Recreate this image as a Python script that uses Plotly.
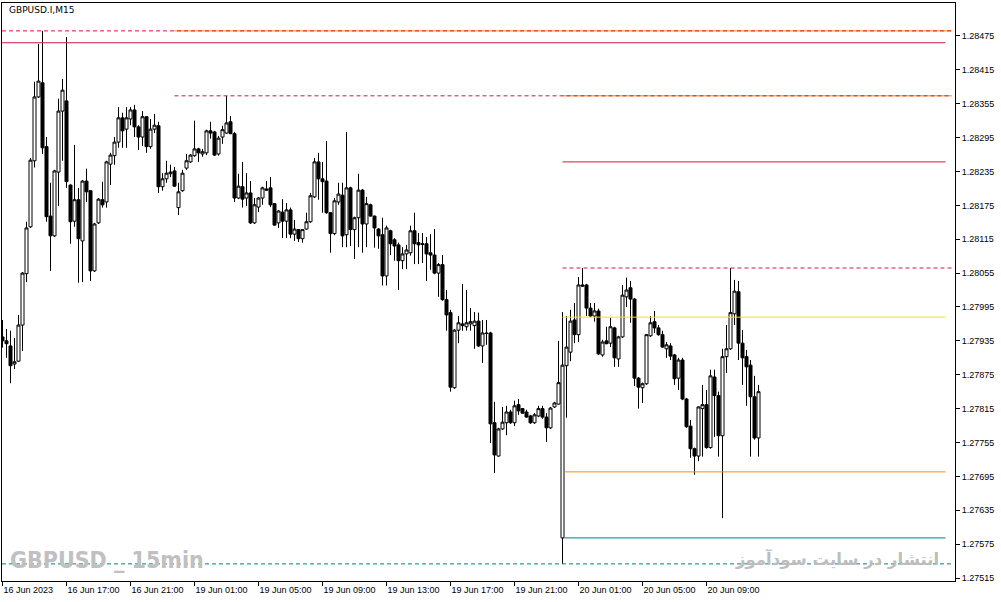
import plotly.graph_objects as go
import pandas as pd

chart_title = "GBPUSD.I,M15"
watermark_left = "GBPUSD _ 15min"
watermark_right = "انتشار در سایت سودآموز"
first_tick_label = "16 Jun 2023"

open_prices = [
    1.27942, 1.27935, 1.27926, 1.27894, 1.27899, 1.27963, 1.28054, 1.28137, 1.28254, 1.28367,
    1.28392, 1.28279, 1.28156, 1.28121, 1.28234, 1.28342, 1.28360, 1.28211, 1.28147, 1.28185,
    1.28112, 1.28218, 1.28201, 1.28059, 1.28144, 1.28185, 1.28181, 1.28248, 1.28263, 1.28287,
    1.28330, 1.28310, 1.28328, 1.28344, 1.28314, 1.28296, 1.28332, 1.28279, 1.28310, 1.28316,
    1.28208, 1.28222, 1.28231, 1.28236, 1.28171, 1.28201, 1.28241, 1.28252, 1.28263, 1.28275,
    1.28266, 1.28268, 1.28307, 1.28305, 1.28266, 1.28296, 1.28303, 1.28323, 1.28302, 1.28188,
    1.28208, 1.28188, 1.28197, 1.28144, 1.28172, 1.28188, 1.28204, 1.28206, 1.28178, 1.28144,
    1.28163, 1.28147, 1.28167, 1.28124, 1.28132, 1.28116, 1.28133, 1.28146, 1.28190, 1.28252,
    1.28222, 1.28218, 1.28162, 1.28125, 1.28181, 1.28193, 1.28123, 1.28206, 1.28132, 1.28153,
    1.28202, 1.28142, 1.28176, 1.28156, 1.28133, 1.28123, 1.28050, 1.28130, 1.28114, 1.28105,
    1.28077, 1.28089, 1.28091, 1.28130, 1.28109, 1.28107, 1.28107, 1.28091, 1.28087, 1.28055,
    1.28070, 1.28008, 1.27985, 1.27852, 1.27954, 1.27962, 1.27960, 1.27965, 1.27962, 1.27970,
    1.27926, 1.27949, 1.27949, 1.27790, 1.27731, 1.27779, 1.27790, 1.27809, 1.27790, 1.27822,
    1.27815, 1.27809, 1.27802, 1.27790, 1.27802, 1.27815, 1.27800, 1.27781, 1.27818, 1.27823,
    1.27586, 1.27891, 1.27915, 1.27972, 1.27946, 1.28034, 1.28034, 1.27993, 1.27979, 1.27988,
    1.27910, 1.27935, 1.27931, 1.27958, 1.27903, 1.27942, 1.28013, 1.28029, 1.28009, 1.27869,
    1.27852, 1.27859, 1.27944, 1.27969, 1.27958, 1.27946, 1.27921, 1.27926, 1.27910, 1.27869,
    1.27901, 1.27832, 1.27784, 1.27744, 1.27731, 1.27815, 1.27822, 1.27746, 1.27871, 1.27838,
    1.27767, 1.27907, 1.27921, 1.27983, 1.28022, 1.27931, 1.27907, 1.27892, 1.27836, 1.27763,
]
high_prices = [
    1.27972, 1.27956, 1.27953, 1.27940, 1.27981, 1.28057, 1.28146, 1.28259, 1.28394, 1.28461,
    1.28484, 1.28296, 1.28215, 1.28238, 1.28364, 1.28399, 1.28473, 1.28212, 1.28282, 1.28206,
    1.28220, 1.28240, 1.28202, 1.28144, 1.28188, 1.28217, 1.28254, 1.28268, 1.28296, 1.28349,
    1.28339, 1.28349, 1.28349, 1.28353, 1.28317, 1.28342, 1.28333, 1.28328, 1.28337, 1.28323,
    1.28232, 1.28254, 1.28247, 1.28243, 1.28215, 1.28238, 1.28266, 1.28266, 1.28325, 1.28277,
    1.28275, 1.28309, 1.28323, 1.28307, 1.28298, 1.28316, 1.28369, 1.28333, 1.28305, 1.28231,
    1.28252, 1.28232, 1.28218, 1.28188, 1.28190, 1.28208, 1.28218, 1.28225, 1.28179, 1.28167,
    1.28186, 1.28179, 1.28171, 1.28149, 1.28133, 1.28133, 1.28162, 1.28197, 1.28259, 1.28268,
    1.28252, 1.28289, 1.28163, 1.28188, 1.28215, 1.28215, 1.28305, 1.28208, 1.28155, 1.28231,
    1.28204, 1.28190, 1.28178, 1.28157, 1.28135, 1.28153, 1.28139, 1.28132, 1.28117, 1.28109,
    1.28101, 1.28105, 1.28139, 1.28162, 1.28126, 1.28126, 1.28119, 1.28124, 1.28133, 1.28073,
    1.28087, 1.28025, 1.27990, 1.27956, 1.27979, 1.28036, 1.28025, 1.27993, 1.27986, 1.27985,
    1.27972, 1.27972, 1.27951, 1.27827, 1.27781, 1.27818, 1.27820, 1.27813, 1.27829, 1.27832,
    1.27816, 1.27813, 1.27804, 1.27807, 1.27820, 1.27820, 1.27807, 1.27818, 1.27827, 1.27935,
    1.27986, 1.27979, 1.27990, 1.28002, 1.28048, 1.28064, 1.28036, 1.28002, 1.28002, 1.27992,
    1.27937, 1.27960, 1.27976, 1.27960, 1.27944, 1.28034, 1.28047, 1.28041, 1.28011, 1.27871,
    1.27861, 1.27947, 1.27979, 1.27988, 1.27963, 1.27953, 1.27933, 1.27931, 1.27912, 1.27905,
    1.27905, 1.27834, 1.27795, 1.27746, 1.27819, 1.27857, 1.27848, 1.27884, 1.27884, 1.27845,
    1.27921, 1.27963, 1.28064, 1.28043, 1.28041, 1.27954, 1.27919, 1.27901, 1.27873, 1.27857,
]
low_prices = [
    1.27923, 1.27905, 1.27860, 1.27885, 1.27898, 1.27917, 1.28039, 1.28135, 1.28242, 1.28365,
    1.28266, 1.28146, 1.28059, 1.28119, 1.28174, 1.28254, 1.28206, 1.28107, 1.28137, 1.28038,
    1.28039, 1.28181, 1.28041, 1.28057, 1.28142, 1.28171, 1.28171, 1.28211, 1.28247, 1.28277,
    1.28277, 1.28277, 1.28317, 1.28296, 1.28273, 1.28280, 1.28268, 1.28275, 1.28303, 1.28197,
    1.28201, 1.28215, 1.28225, 1.28208, 1.28158, 1.28199, 1.28238, 1.28250, 1.28261, 1.28252,
    1.28261, 1.28264, 1.28293, 1.28263, 1.28263, 1.28284, 1.28302, 1.28301, 1.28181, 1.28186,
    1.28171, 1.28174, 1.28142, 1.28142, 1.28163, 1.28176, 1.28201, 1.28172, 1.28139, 1.28135,
    1.28117, 1.28117, 1.28117, 1.28112, 1.28110, 1.28109, 1.28132, 1.28144, 1.28188, 1.28185,
    1.28162, 1.28160, 1.28091, 1.28122, 1.28176, 1.28101, 1.28101, 1.28103, 1.28080, 1.28101,
    1.28091, 1.28101, 1.28155, 1.28100, 1.28098, 1.28033, 1.28033, 1.28087, 1.28077, 1.28025,
    1.28062, 1.28062, 1.28086, 1.28071, 1.28071, 1.28073, 1.28041, 1.28061, 1.28053, 1.28013,
    1.28006, 1.27953, 1.27845, 1.27850, 1.27931, 1.27953, 1.27953, 1.27953, 1.27921, 1.27924,
    1.27896, 1.27928, 1.27754, 1.27701, 1.27730, 1.27777, 1.27768, 1.27788, 1.27784, 1.27804,
    1.27806, 1.27799, 1.27788, 1.27788, 1.27800, 1.27797, 1.27756, 1.27779, 1.27816, 1.27822,
    1.27540, 1.27799, 1.27899, 1.27931, 1.27933, 1.28031, 1.27979, 1.27977, 1.27969, 1.27910,
    1.27907, 1.27929, 1.27924, 1.27889, 1.27889, 1.27940, 1.27995, 1.27967, 1.27855, 1.27815,
    1.27825, 1.27857, 1.27942, 1.27949, 1.27944, 1.27923, 1.27905, 1.27901, 1.27857, 1.27848,
    1.27830, 1.27781, 1.27728, 1.27698, 1.27722, 1.27730, 1.27744, 1.27744, 1.27765, 1.27730,
    1.27621, 1.27878, 1.27919, 1.27963, 1.27901, 1.27857, 1.27820, 1.27730, 1.27760, 1.27730,
]
close_prices = [
    1.27935, 1.27930, 1.27891, 1.27898, 1.27963, 1.28055, 1.28135, 1.28255, 1.28367, 1.28395,
    1.28277, 1.28155, 1.28121, 1.28236, 1.28342, 1.28379, 1.28217, 1.28146, 1.28185, 1.28116,
    1.28218, 1.28199, 1.28059, 1.28142, 1.28186, 1.28176, 1.28252, 1.28264, 1.28287, 1.28330,
    1.28307, 1.28330, 1.28344, 1.28314, 1.28296, 1.28332, 1.28279, 1.28310, 1.28317, 1.28208,
    1.28222, 1.28232, 1.28234, 1.28209, 1.28199, 1.28232, 1.28254, 1.28264, 1.28275, 1.28268,
    1.28270, 1.28307, 1.28303, 1.28264, 1.28294, 1.28309, 1.28321, 1.28302, 1.28188, 1.28209,
    1.28186, 1.28197, 1.28144, 1.28176, 1.28188, 1.28206, 1.28202, 1.28176, 1.28140, 1.28165,
    1.28147, 1.28167, 1.28124, 1.28133, 1.28116, 1.28132, 1.28146, 1.28192, 1.28252, 1.28222,
    1.28217, 1.28162, 1.28125, 1.28183, 1.28195, 1.28121, 1.28206, 1.28132, 1.28153, 1.28202,
    1.28142, 1.28178, 1.28156, 1.28135, 1.28121, 1.28050, 1.28135, 1.28107, 1.28103, 1.28077,
    1.28089, 1.28096, 1.28130, 1.28107, 1.28105, 1.28106, 1.28089, 1.28087, 1.28055, 1.28070,
    1.28008, 1.27981, 1.27853, 1.27954, 1.27967, 1.27965, 1.27967, 1.27969, 1.27970, 1.27926,
    1.27949, 1.27948, 1.27788, 1.27733, 1.27779, 1.27791, 1.27809, 1.27790, 1.27820, 1.27811,
    1.27807, 1.27800, 1.27790, 1.27804, 1.27815, 1.27800, 1.27781, 1.27816, 1.27825, 1.27861,
    1.27892, 1.27924, 1.27970, 1.27946, 1.28034, 1.28032, 1.27993, 1.27979, 1.27988, 1.27912,
    1.27933, 1.27930, 1.27960, 1.27905, 1.27942, 1.28016, 1.28025, 1.28009, 1.27869, 1.27853,
    1.27859, 1.27946, 1.27967, 1.27958, 1.27946, 1.27924, 1.27928, 1.27908, 1.27868, 1.27901,
    1.27832, 1.27783, 1.27744, 1.27731, 1.27818, 1.27822, 1.27746, 1.27873, 1.27838, 1.27767,
    1.27907, 1.27921, 1.27985, 1.28023, 1.27931, 1.27905, 1.27889, 1.27836, 1.27763, 1.27845,
]

y_tick_labels = ["1.28475", "1.28415", "1.28355", "1.28295", "1.28235", "1.28175",
                 "1.28115", "1.28055", "1.27995", "1.27935", "1.27875", "1.27815",
                 "1.27755", "1.27695", "1.27635", "1.27575", "1.27515"]

# horizontal levels drawn on the chart (prices)
level_top_dash = 1.28484
level_top_solid = 1.28463
level_res_dash = 1.28369
level_res_solid = 1.28252
level_high_dash = 1.28064
level_mid = 1.27977
level_orange = 1.27703
level_teal = 1.27586
level_low_dash = 1.27540

# ---- time axis (M15 bars, weekend skipped)
n = len(open_prices)
s1 = pd.date_range("2023-06-16 13:00", "2023-06-16 23:45", freq="15min")
s2 = pd.date_range("2023-06-19 00:00", periods=n - len(s1), freq="15min")
times = list(s1) + list(s2)
xi = list(range(n))
tick_idx = [i for i, t in enumerate(times) if t.minute == 0 and t.hour % 4 == 1]
tick_txt = [first_tick_label if i == 0 else times[i].strftime("%d %b %H:%M") for i in tick_idx]

fig = go.Figure()
fig.add_trace(go.Candlestick(
    x=xi, open=open_prices, high=high_prices, low=low_prices, close=close_prices,
    increasing=dict(fillcolor="white", line=dict(color="black", width=1)),
    decreasing=dict(fillcolor="black", line=dict(color="black", width=1)),
    whiskerwidth=0, showlegend=False, hoverinfo="skip",
))

CRIMSON = "#DC143C"
ORANGE = "#FF8C00"
TEAL = "#008080"
X_LEFT = -0.125
X_RIGHT = X_LEFT + 238.25
X_END_SOLID, X_END_DASH = 235.75, 237.3
start_a, start_b = 43, 140

def hline(x0, x1, y, color, dash="solid", width=1):
    fig.add_shape(type="line", xref="x", yref="y", x0=x0, x1=x1, y0=y, y1=y,
                  line=dict(color=color, width=width, dash=dash), layer="above")

DASH = "4px,3px"
hline(start_a, X_END_DASH, level_top_dash, ORANGE)
hline(X_LEFT, X_END_DASH, level_top_dash, CRIMSON, DASH)
hline(X_LEFT, X_END_SOLID, level_top_solid, CRIMSON)
hline(start_b, X_END_DASH, level_res_dash, ORANGE)
hline(start_a, X_END_DASH, level_res_dash, CRIMSON, DASH)
hline(start_b, X_END_SOLID, level_res_solid, CRIMSON)
hline(start_b, X_END_DASH, level_high_dash, CRIMSON, DASH)
hline(start_b, X_END_SOLID, level_mid, "#F2E600")
hline(start_b + 0.5, X_END_SOLID, level_orange, ORANGE)
hline(start_b + 0.5, X_END_SOLID, level_teal, TEAL)
hline(X_LEFT, X_END_DASH, level_low_dash, TEAL, DASH)

fig.add_annotation(text=chart_title, xref="paper", yref="paper", x=0.005, y=0.988,
                   xanchor="left", yanchor="middle", showarrow=False,
                   font=dict(family="DejaVu Sans", size=9, color="black"))
fig.add_annotation(text=watermark_left, xref="paper", yref="paper", x=0.006, y=0.036,
                   xanchor="left", yanchor="middle", showarrow=False,
                   font=dict(family="DejaVu Sans Condensed, Liberation Sans Narrow, Liberation Sans",
                             size=23, color="#C0C0C0", weight="bold"))
fig.add_annotation(text=watermark_right, xref="paper", yref="paper", x=0.985, y=0.038,
                   xanchor="right", yanchor="middle", showarrow=False,
                   font=dict(family="DejaVu Sans", size=16.5, color="#BDBDBD", weight="bold"))

y_top = 1.285334
y_bot = 1.275097
fig.update_layout(
    width=1001, height=602,
    margin=dict(l=2, r=46, t=3, b=21),
    paper_bgcolor="white", plot_bgcolor="white",
    boxgap=0.25, boxgroupgap=0,
    font=dict(family="Liberation Sans", size=9, color="black"),
    xaxis=dict(
        range=[X_LEFT, X_RIGHT], rangeslider=dict(visible=False),
        showgrid=False, zeroline=False, showline=True, linecolor="black", linewidth=1,
        mirror=True, ticks="outside", ticklen=4, tickcolor="black",
        tickvals=tick_idx, ticktext=tick_txt, ticklabelposition="outside right",
        tickfont=dict(family="Liberation Sans", size=9, color="black"),
    ),
    yaxis=dict(
        range=[y_bot, y_top], side="right",
        showgrid=False, zeroline=False, showline=True, linecolor="black", linewidth=1,
        mirror=True, ticks="outside", ticklen=4, tickcolor="black",
        tickvals=[float(v) for v in y_tick_labels], ticktext=y_tick_labels,
        tickfont=dict(family="Liberation Sans", size=9, color="black"),
    ),
)

fig.write_html("out.html", config={"displayModeBar": False},
               post_script="document.body.style.margin='0';")
